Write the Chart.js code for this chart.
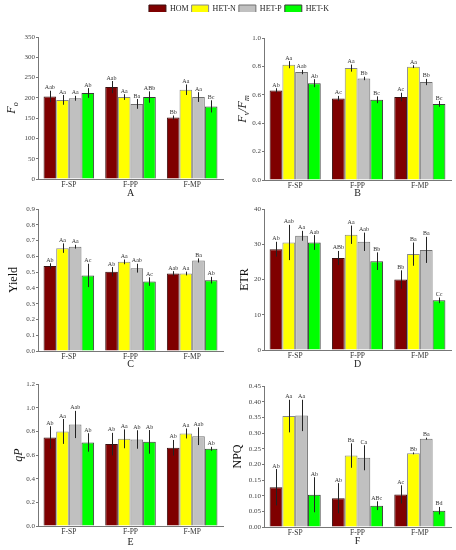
<!DOCTYPE html>
<html>
<head>
<meta charset="utf-8">
<script src="https://cdn.jsdelivr.net/npm/chart.js@4.4.1/dist/chart.umd.min.js"></script>
<style>
  html, body { margin: 0; padding: 0; background: #fff; }
  #page { position: relative; width: 456px; height: 550px; overflow: hidden; }
  canvas { position: absolute; }
</style>
</head>
<body>
<div id="page">
  <canvas id="legend" width="456" height="22" style="left:0;top:0"></canvas>
  <canvas id="panelA" width="228" height="178" style="left:0;top:22px"></canvas>
  <canvas id="panelB" width="228" height="178" style="left:228px;top:22px"></canvas>
  <canvas id="panelC" width="228" height="170" style="left:0;top:200px"></canvas>
  <canvas id="panelD" width="228" height="170" style="left:228px;top:200px"></canvas>
  <canvas id="panelE" width="228" height="180" style="left:0;top:370px"></canvas>
  <canvas id="panelF" width="228" height="180" style="left:228px;top:370px"></canvas>
</div>
<script>
// ---- DATA ----
const CATEGORIES = ['F-SP', 'F-PP', 'F-MP'];
const SERIES = ['HOM', 'HET-N', 'HET-P', 'HET-K'];

// rows = series (HOM, HET-N, HET-P, HET-K), columns = categories
const F0_MEAN = [[203.5, 226.5, 151.5], [195, 202, 220], [199, 185, 202], [212, 202, 179]];
const F0_ERR  = [[14, 15, 5], [12, 7, 13], [6, 12, 12], [12, 14, 15]];
const F0_SIG  = [['Aab', 'Aab', 'Bb'], ['Aa', 'Aa', 'Aa'], ['Aa', 'Ba', 'Aa'], ['Ab', 'ABb', 'Bc']];
const F0_TICKS = [0, 50, 100, 150, 200, 250, 300, 350];

const FVFM_MEAN = [[0.631, 0.574, 0.584], [0.812, 0.788, 0.798], [0.760, 0.715, 0.690], [0.682, 0.565, 0.536]];
const FVFM_ERR  = [[0.015, 0.018, 0.03], [0.025, 0.025, 0.01], [0.015, 0.012, 0.022], [0.028, 0.024, 0.02]];
const FVFM_SIG  = [['Ab', 'Ac', 'Ac'], ['Aa', 'Aa', 'Aa'], ['Aab', 'Bb', 'Bb'], ['Ab', 'Bc', 'Bc']];
const FVFM_TICKS = [0, 0.2, 0.4, 0.6, 0.8, 1.0];

const YIELD_MEAN = [[0.538, 0.502, 0.491], [0.652, 0.565, 0.491], [0.661, 0.525, 0.574], [0.479, 0.44, 0.449]];
const YIELD_ERR  = [[0.018, 0.03, 0.015], [0.03, 0.015, 0.012], [0.012, 0.028, 0.013], [0.074, 0.027, 0.021]];
const YIELD_SIG  = [['Ab', 'Ab', 'Aab'], ['Aa', 'Aa', 'Aa'], ['Aa', 'Aab', 'Ba'], ['Ac', 'Ac', 'Ab']];
const YIELD_TICKS = [0, 0.1, 0.2, 0.3, 0.4, 0.5, 0.6, 0.7, 0.8, 0.9];

const ETR_MEAN = [[28.6, 26.1, 20.0], [30.5, 32.7, 27.2], [32.4, 30.7, 28.4], [30.5, 25.2, 14.1]];
const ETR_ERR  = [[2.1, 2.0, 2.6], [5.0, 2.6, 3.3], [1.4, 2.6, 3.7], [2.1, 2.5, 0.8]];
const ETR_SIG  = [['Ab', 'ABb', 'Bb'], ['Aab', 'Aa', 'Ba'], ['Aa', 'Aab', 'Ba'], ['Aab', 'Bb', 'Cc']];
const ETR_TICKS = [0, 10, 20, 30, 40];

const QP_MEAN = [[0.748, 0.692, 0.661], [0.799, 0.737, 0.782], [0.858, 0.731, 0.759], [0.706, 0.711, 0.652]];
const QP_ERR  = [[0.095, 0.095, 0.066], [0.105, 0.08, 0.042], [0.115, 0.078, 0.075], [0.078, 0.1, 0.017]];
const QP_SIG  = [['Ab', 'Ab', 'Ab'], ['Aa', 'Aa', 'Aa'], ['Aab', 'Ab', 'Aab'], ['Ab', 'Ab', 'Ab']];
const QP_TICKS = [0, 0.2, 0.4, 0.6, 0.8, 1.0, 1.2];

const NPQ_MEAN = [[0.127, 0.092, 0.104], [0.354, 0.228, 0.235], [0.356, 0.221, 0.282], [0.103, 0.068, 0.052]];
const NPQ_ERR  = [[0.058, 0.048, 0.029], [0.052, 0.039, 0.003], [0.05, 0.04, 0.003], [0.056, 0.014, 0.012]];
const NPQ_SIG  = [['Ab', 'Ab', 'Ac'], ['Aa', 'Ba', 'Bb'], ['Aa', 'Ca', 'Ba'], ['Ab', 'ABc', 'Bd']];
const NPQ_TICKS = [0, 0.05, 0.10, 0.15, 0.20, 0.25, 0.30, 0.35, 0.40, 0.45];

// ---- STYLE ----
const FILLS = ['#7f0000', '#ffff00', '#c0c0c0', '#00ff00'];
const EDGES = ['#3a1010', '#888888', '#707070', '#3a3a3a'];
const SERIF = '"Liberation Serif", "Times New Roman", serif';

// error bars + significance letters
const errorBars = {
    id: 'errorBars',
    afterDatasetsDraw(chart) {
        const { ctx } = chart;
        const y = chart.scales.y;
        ctx.save();
        chart.data.datasets.forEach((ds, di) => {
            chart.getDatasetMeta(di).data.forEach((bar, i) => {
                const v = ds.data[i], e = ds.errors[i];
                const top = y.getPixelForValue(v + e);
                const bot = y.getPixelForValue(v - e);
                const x = Math.round(bar.x) + 0.5;
                ctx.strokeStyle = '#222';
                ctx.lineWidth = 1;
                ctx.beginPath();
                ctx.moveTo(x, top);
                ctx.lineTo(x, bot);
                ctx.stroke();
                ctx.fillStyle = '#333';
                ctx.font = '6px ' + SERIF;
                ctx.textAlign = 'center';
                ctx.textBaseline = 'alphabetic';
                ctx.fillText(ds.sig[i], bar.x, top - 1.5);
            });
        });
        ctx.restore();
    }
};

// rotated y title with italic / subscript pieces
const yTitle = {
    id: 'yTitle',
    afterDraw(chart, args, opts) {
        const { ctx, chartArea } = chart;
        const parts = opts.parts;
        const size = 12, subSize = 8;
        const fontOf = p => (p.i ? 'italic ' : '') + (p.sub ? subSize : size) + 'px ' + SERIF;
        let total = 0;
        parts.forEach(p => { ctx.font = fontOf(p); total += ctx.measureText(p.t).width; });
        ctx.save();
        ctx.translate(opts.x, (chartArea.top + chartArea.bottom) / 2);
        ctx.rotate(-Math.PI / 2);
        ctx.fillStyle = '#111';
        ctx.textBaseline = 'middle';
        ctx.textAlign = 'left';
        let cx = -total / 2;
        parts.forEach(p => {
            ctx.font = fontOf(p);
            ctx.fillText(p.t, cx, p.sub ? 3.5 : 0);
            cx += ctx.measureText(p.t).width;
        });
        ctx.restore();
    }
};

// ---- SHARED LEGEND (empty chart, legend only) ----
new Chart(document.getElementById('legend'), {
    type: 'bar',
    data: {
        labels: [],
        datasets: SERIES.map((name, s) => ({
            label: name, data: [], backgroundColor: FILLS[s], borderColor: EDGES[s], borderWidth: 1
        }))
    },
    options: {
        responsive: false,
        animation: false,
        layout: { padding: { left: 22, top: 2 } },
        plugins: {
            tooltip: { enabled: false },
            legend: {
                position: 'top',
                onClick: null,
                labels: { boxWidth: 17, boxHeight: 8, padding: 3, color: '#222', font: { family: SERIF, size: 8 } }
            }
        },
        scales: { x: { display: false }, y: { display: false } }
    }
});

function makePanel(id, cfg) {
    const datasets = SERIES.map((name, s) => ({
        label: name,
        data: cfg.mean[s],
        errors: cfg.err[s],
        sig: cfg.sig[s],
        backgroundColor: FILLS[s],
        borderColor: EDGES[s],
        borderWidth: 1,
        categoryPercentage: 0.82,
        barPercentage: 1.0
    }));

    new Chart(document.getElementById(id), {
        type: 'bar',
        data: { labels: CATEGORIES, datasets },
        plugins: [errorBars, yTitle],
        options: {
            responsive: false,
            animation: false,
            layout: { padding: { top: cfg.padTop, right: cfg.padRight, left: 0, bottom: 0 } },
            plugins: {
                legend: { display: false },
                tooltip: { enabled: false },
                yTitle: { parts: cfg.title, x: cfg.titleX }
            },
            scales: {
                x: {
                    grid: { drawOnChartArea: false, drawTicks: false },
                    border: { color: '#777' },
                    ticks: { color: '#333', font: { family: SERIF, size: 7.5 }, padding: 1.5 },
                    title: {
                        display: true, text: cfg.letter, color: '#222',
                        font: { family: SERIF, size: 10 }, padding: { top: 0, bottom: cfg.letterPad }
                    },
                    afterFit: s => { s.height = cfg.xHeight; }
                },
                y: {
                    min: 0,
                    max: cfg.ticks[cfg.ticks.length - 1],
                    afterBuildTicks: s => { s.ticks = cfg.ticks.map(v => ({ value: v })); },
                    grid: { drawOnChartArea: false, tickLength: 2, color: '#777' },
                    border: { color: '#777' },
                    ticks: {
                        autoSkip: false, color: '#444', padding: 1,
                        font: { family: SERIF, size: 7 },
                        callback: v => Number(v).toFixed(cfg.dec)
                    },
                    afterFit: s => { s.width = cfg.yWidth; }
                }
            }
        }
    });
}

makePanel('panelA', {
    mean: F0_MEAN, err: F0_ERR, sig: F0_SIG, ticks: F0_TICKS, dec: 0, letter: 'A',
    title: [{ t: 'F', i: true }, { t: 'o', i: true, sub: true }], titleX: 12,
    padTop: 15, padRight: 5, yWidth: 38, xHeight: 21, letterPad: 1
});
makePanel('panelB', {
    mean: FVFM_MEAN, err: FVFM_ERR, sig: FVFM_SIG, ticks: FVFM_TICKS, dec: 1, letter: 'B',
    title: [{ t: 'F', i: true }, { t: 'v', i: true, sub: true }, { t: '/', i: true }, { t: 'F', i: true }, { t: 'm', i: true, sub: true }],
    titleX: 15, padTop: 16, padRight: 5, yWidth: 36, xHeight: 20, letterPad: 1
});
makePanel('panelC', {
    mean: YIELD_MEAN, err: YIELD_ERR, sig: YIELD_SIG, ticks: YIELD_TICKS, dec: 1, letter: 'C',
    title: [{ t: 'Yield' }], titleX: 14,
    padTop: 9, padRight: 5, yWidth: 38, xHeight: 19, letterPad: 0
});
makePanel('panelD', {
    mean: ETR_MEAN, err: ETR_ERR, sig: ETR_SIG, ticks: ETR_TICKS, dec: 0, letter: 'D',
    title: [{ t: 'ETR' }], titleX: 17,
    padTop: 9, padRight: 5, yWidth: 36, xHeight: 20, letterPad: 0
});
makePanel('panelE', {
    mean: QP_MEAN, err: QP_ERR, sig: QP_SIG, ticks: QP_TICKS, dec: 1, letter: 'E',
    title: [{ t: 'qP', i: true }], titleX: 19,
    padTop: 14, padRight: 5, yWidth: 38, xHeight: 24, letterPad: 1.5
});
makePanel('panelF', {
    mean: NPQ_MEAN, err: NPQ_ERR, sig: NPQ_SIG, ticks: NPQ_TICKS, dec: 2, letter: 'F',
    title: [{ t: 'NPQ' }], titleX: 10,
    padTop: 16, padRight: 5, yWidth: 36, xHeight: 23, letterPad: 2.5
});
</script>
</body>
</html>
